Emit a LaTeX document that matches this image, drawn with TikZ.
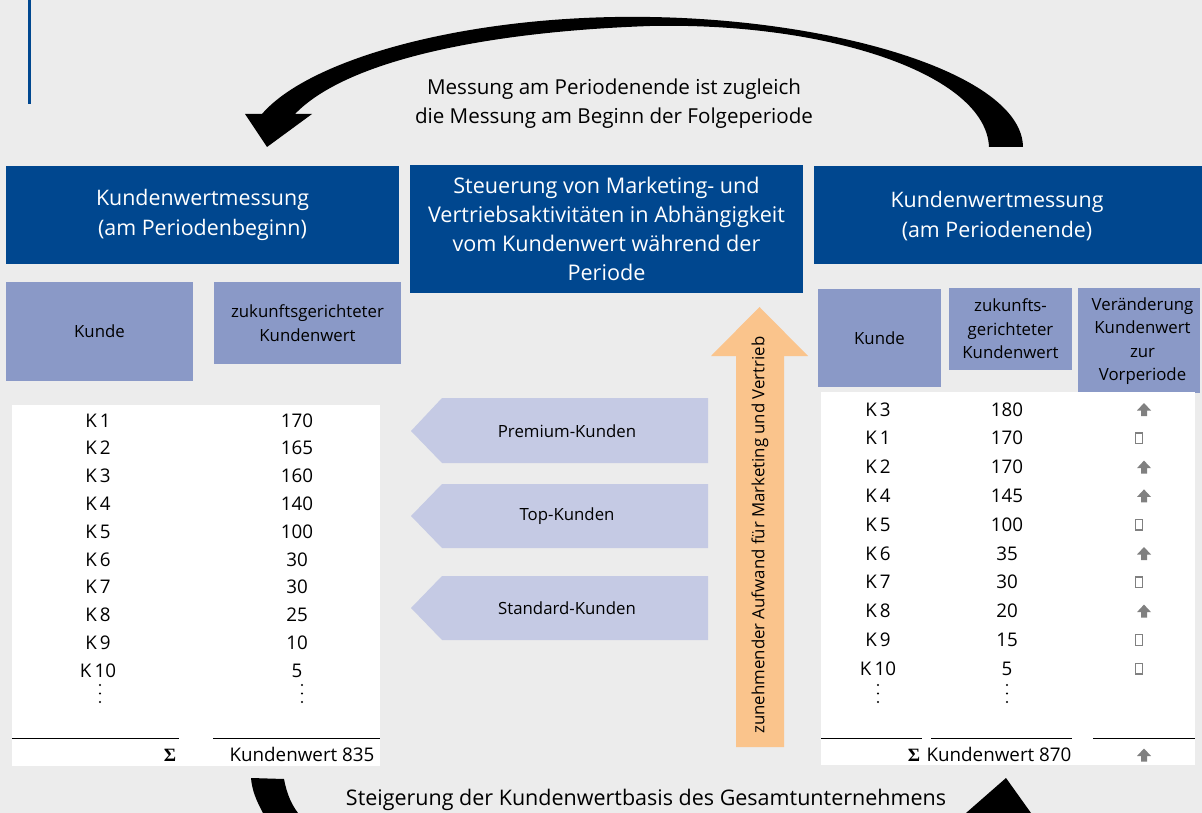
\documentclass[tikz,border=0pt]{standalone}
\usepackage{fontspec}
\setmainfont{Open Sans}
\newfontfamily\sumfont{Liberation Serif}
\definecolor{pagebg}{RGB}{236,236,236}
\definecolor{kwblue}{RGB}{0,71,143}
\definecolor{hdrblue}{RGB}{138,153,199}
\definecolor{segblue}{RGB}{197,202,228}
\definecolor{effort}{RGB}{250,196,140}
\definecolor{symgray}{RGB}{128,128,128}
\begin{document}
\begin{tikzpicture}[x=1pt,y=-1pt,
  bigfont/.style={font=\fontsize{20.6}{29}\selectfont},
  headbox/.style={fill=kwblue,text=white,inner sep=0pt,align=center,
    font=\fontsize{21.4}{30}\selectfont},
  colhead/.style={fill=hdrblue,text=black,inner sep=0pt,align=center,
    font=\fontsize{16.8}{23.5}\selectfont},
  colhtext/.style={inner sep=0pt,align=center,font=\fontsize{16.8}{23.5}\selectfont},
  cell/.style={inner sep=0pt,text height=13pt,text depth=0pt,
    font=\fontsize{18.8}{22}\selectfont},
  segtext/.style={inner sep=0pt,font=\fontsize{16.8}{22}\selectfont},
  upmark/.pic={\fill[symgray] (-7,1) -- (0,-6.5) -- (7,1) -- (3,1) -- (3,6.5)
      -- (-3,6.5) -- (-3,1) -- cycle;},
  boxmark/.pic={\draw[symgray,line width=1.3pt] (-3.2,-5.4) rectangle (3.2,5.4);}
]
% page
\fill[pagebg] (0,0) rectangle (1202,813);
\useasboundingbox (0,0) rectangle (1202,813);

% accent bar
\fill[kwblue] (27.5,0) rectangle (31,104);

% upper loop arrow: measurement at period end feeds the next period
\fill[black] (1023,147) .. controls (1022,75) and (840,20) .. (650,17)
  .. controls (470,14) and (310,58) .. (262,114) -- (245,114) -- (267,147)
  -- (312,114) -- (295,114) .. controls (345,62) and (480,32) .. (650,26)
  .. controls (830,22) and (986,75) .. (989,147) -- cycle;
\node[bigfont,align=center,inner sep=0pt] (loopnote) at (614,103.5)
  {Messung am Periodenende ist zugleich\\die Messung am Beginn der Folgeperiode};

% three blue headers
\node[headbox,minimum width=393pt,minimum height=98pt] (hbegin) at (202.5,215)
  {Kundenwertmessung\\(am Periodenbeginn)};
\node[headbox,font=\fontsize{21.6}{29}\selectfont,minimum width=393pt,minimum height=128pt]
  (hcontrol) at (606.5,229)
  {Steuerung von Marketing- und\\Vertriebsaktivitäten in Abhängigkeit\\vom Kundenwert während der\\Periode};
\node[fill=kwblue,inner sep=0pt,minimum width=388pt,minimum height=98pt] (hend) at (1008,215) {};
\node[headbox,fill=none] (hendtext) at (997,216) {Kundenwertmessung\\(am Periodenende)};

% column headers, left table
\node[colhead,minimum width=187pt,minimum height=99pt] (lhk) at (99.5,331.5) {Kunde};
\node[colhead,minimum width=187pt,minimum height=82pt] (lhv) at (307.5,323)
  {zukunftsgerichteter\\Kundenwert};

% column headers, right table
\node[colhead,minimum width=123pt,minimum height=98pt] (rhk) at (879.5,338) {Kunde};
\node[colhead,minimum width=123pt,minimum height=82pt] (rhv) at (1010.5,329)
  {zukunfts-\\gerichteter\\Kundenwert};
\node[fill=hdrblue,inner sep=0pt,minimum width=122pt,minimum height=105pt] (rhd) at (1139,340.5) {};
\node[colhtext] (rhdtext) at (1142.5,341)
  {Veränderung\\Kundenwert\\zur\\Vorperiode};

% table bodies
\fill[white] (12,405) rectangle (380,766);
\fill[white] (821,392) rectangle (1195,765);

% left table rows
\foreach \v [count=\i] in {170,165,160,140,100,30,30,25,10,5}{
  \node[cell] (lk\i) at (98,{420.5+27.8*(\i-1)}) {K\,\i};
  \node[cell] (lv\i) at (297,{420.5+27.8*(\i-1)}) {\v};
}
\foreach \cx in {100,302}{
  \foreach \dy in {0,8.5,17}{
    \fill (\cx,{685+\dy}) circle (1.2pt);
  }
}
\draw[line width=1pt] (12,738) -- (179,738);
\draw[line width=1pt] (213,738) -- (380,738);
\node[cell] (lsig) at (170,755) {\sumfont\bfseries Σ};
\node[cell] (lsum) at (302,755) {Kundenwert 835};

% right table rows
\foreach \k/\v/\m/\mx [count=\i] in {3/180/upmark/1144,1/170/boxmark/1139,
    2/170/upmark/1144,4/145/upmark/1144,5/100/boxmark/1139,6/35/upmark/1144,
    7/30/boxmark/1139,8/20/upmark/1144,9/15/boxmark/1139,10/5/boxmark/1139}{
  \node[cell] (rk\i) at (878,{409.5+28.8*(\i-1)}) {K\,\k};
  \node[cell] (rv\i) at (1007,{409.5+28.8*(\i-1)}) {\v};
  \pic at (\mx,{409.5+28.8*(\i-1)}) {\m};
}
\foreach \cx in {878,1007}{
  \foreach \dy in {0,8.5,17}{
    \fill (\cx,{685+\dy}) circle (1.2pt);
  }
}
\draw[line width=1pt] (821,738) -- (922,738);
\draw[line width=1pt] (931,738) -- (1072,738);
\draw[line width=1pt] (1093,738) -- (1195,738);
\node[cell] (rsig) at (914,755) {\sumfont\bfseries Σ};
\node[cell] (rsum) at (999,755) {Kundenwert 870};
\pic at (1144,755) {upmark};

% customer segments
\fill[segblue] (708,398) -- (442,398) -- (411,431) -- (442,463) -- (708,463) -- cycle;
\node[segtext] (premium) at (567,431) {Premium-Kunden};
\fill[segblue] (708,484) -- (442,484) -- (411,516) -- (442,548) -- (708,548) -- cycle;
\node[segtext] (top) at (567,516) {Top-Kunden};
\fill[segblue] (708,576) -- (442,576) -- (411,608) -- (442,640) -- (708,640) -- cycle;
\node[segtext] (standard) at (567,608) {Standard-Kunden};

% rising effort arrow
\fill[effort] (736,747) -- (736,356) -- (711,356) -- (759.5,307) -- (808,356)
  -- (784,356) -- (784,747) -- cycle;
\node[segtext,rotate=90] (effortlabel) at (760,535)
  {zunehmender Aufwand für Marketing und Vertrieb};

% lower loop arrow, cut at the page edge
\fill[black] (251,778) -- (284,779) .. controls (287,795) and (292,805) .. (298,813)
  -- (263,813) .. controls (256,800) and (252,790) .. (251,778) -- cycle;
\fill[black] (966,813) -- (1006,778) -- (1031,813) -- cycle;
\node[bigfont,font=\fontsize{21.5}{29}\selectfont,inner sep=0pt] (basenote) at (646,800)
  {Steigerung der Kundenwertbasis des Gesamtunternehmens};
\end{tikzpicture}
\end{document}
